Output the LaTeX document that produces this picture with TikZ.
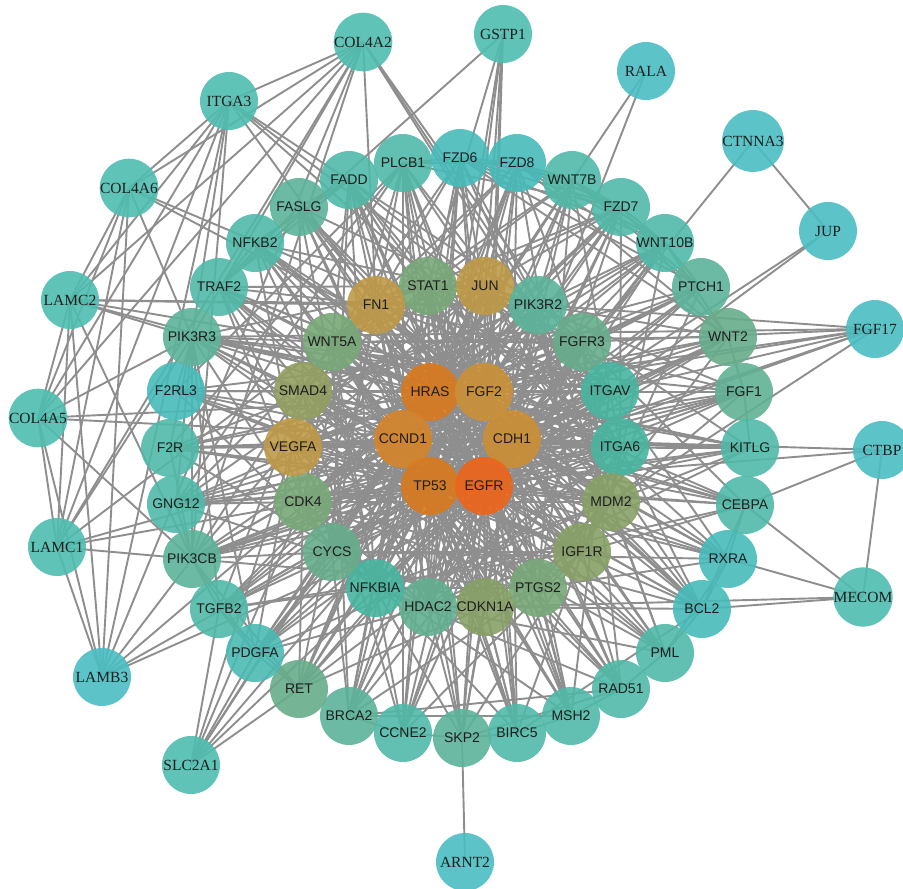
\documentclass[tikz,border=0pt]{standalone}
\usepackage{fontspec}
\setmainfont{Liberation Serif}
\setsansfont{Liberation Sans}
\usetikzlibrary{backgrounds}

\definecolor{tealOut}{HTML}{4FBDB0}
\definecolor{cyanOut}{HTML}{4ABEC2}
\definecolor{midT}{HTML}{50B9A8}
\definecolor{midG}{HTML}{5CB39A}
\definecolor{midC}{HTML}{47BBBA}
\definecolor{innG}{HTML}{78A777}
\definecolor{innO}{HTML}{87A067}
\definecolor{innT}{HTML}{46B5A0}
\definecolor{innM}{HTML}{67AC8B}
\definecolor{goldN}{HTML}{BE9A48}
\definecolor{coreO}{HTML}{D97A1E}
\definecolor{coreB}{HTML}{D4832A}
\definecolor{coreC}{HTML}{CC8F35}
\definecolor{egfrO}{HTML}{EE6418}
\definecolor{edgeG}{HTML}{8E8E8E}
\definecolor{labelK}{HTML}{1E1E1E}

\begin{document}
\begin{tikzpicture}[
        x=1pt, y=-1pt,
        gene/.style={circle, minimum size=58pt, inner sep=0pt, fill opacity=0.9,
            text opacity=1, text=labelK, font=\sffamily\fontsize{14}{16}\selectfont},
        outer/.style={gene, font=\rmfamily\fontsize{15.5}{17}\selectfont},
        edge/.style={draw=edgeG, line width=1.9pt}
    ]
        \useasboundingbox (0,0) rectangle (903,889);

        % Core
        \node[gene, fill=coreO] (HRAS) at (430,392) {HRAS};
        \node[gene, fill=coreC!85!goldN] (FGF2) at (484,392) {FGF2};
        \node[gene, fill=coreB] (CCND1) at (403,439) {CCND1};
        \node[gene, fill=coreC] (CDH1) at (512,439) {CDH1};
        \node[gene, fill=coreO] (TP53) at (430,486) {TP53};
        \node[gene, fill=egfrO] (EGFR) at (484,486) {EGFR};

        % Inner ring
        \node[gene, fill=innG] (STAT1) at (428,286) {STAT1};
        \node[gene, fill=goldN] (JUN) at (485,286) {JUN};
        \node[gene, fill=midG] (PIK3R2) at (538,305) {PIK3R2};
        \node[gene, fill=innM] (FGFR3) at (582,342) {FGFR3};
        \node[gene, fill=innT] (ITGAV) at (610,391) {ITGAV};
        \node[gene, fill=innT] (ITGA6) at (620,447) {ITGA6};
        \node[gene, fill=innO] (MDM2) at (611,502) {MDM2};
        \node[gene, fill=innO] (IGF1R) at (582,552) {IGF1R};
        \node[gene, fill=innG] (PTGS2) at (538,588) {PTGS2};
        \node[gene, fill=innO] (CDKN1A) at (485,607) {CDKN1A};
        \node[gene, fill=innM!80!midT] (HDAC2) at (428,607) {HDAC2};
        \node[gene, fill=innT] (NFKBIA) at (375,588) {NFKBIA};
        \node[gene, fill=innM] (CYCS) at (332,552) {CYCS};
        \node[gene, fill=innG] (CDK4) at (303,502) {CDK4};
        \node[gene, fill=goldN] (VEGFA) at (293,447) {VEGFA};
        \node[gene, fill=innO!80!goldN] (SMAD4) at (303,391) {SMAD4};
        \node[gene, fill=innG] (WNT5A) at (332,342) {WNT5A};
        \node[gene, fill=goldN] (FN1) at (376,305) {FN1};

        % Middle ring
        \node[gene, fill=midT] (FADD) at (349,180) {FADD};
        \node[gene, fill=midT] (PLCB1) at (403,163) {PLCB1};
        \node[gene, fill=midC] (FZD6) at (460,158) {FZD6};
        \node[gene, fill=midC] (FZD8) at (517,163) {FZD8};
        \node[gene, fill=midT] (WNT7B) at (572,180) {WNT7B};
        \node[gene, fill=midT] (FZD7) at (621,207) {FZD7};
        \node[gene, fill=midT] (WNT10B) at (665,243) {WNT10B};
        \node[gene, fill=midG] (PTCH1) at (701,287) {PTCH1};
        \node[gene, fill=innM] (WNT2) at (728,337) {WNT2};
        \node[gene, fill=innM!70!midT] (FGF1) at (744,392) {FGF1};
        \node[gene, fill=midT] (KITLG) at (750,448) {KITLG};
        \node[gene, fill=midT] (CEBPA) at (745,505) {CEBPA};
        \node[gene, fill=midC] (RXRA) at (728,559) {RXRA};
        \node[gene, fill=midC] (BCL2) at (702,609) {BCL2};
        \node[gene, fill=midT] (PML) at (665,653) {PML};
        \node[gene, fill=midT] (RAD51) at (621,689) {RAD51};
        \node[gene, fill=midT] (MSH2) at (571,716) {MSH2};
        \node[gene, fill=midT] (BIRC5) at (517,733) {BIRC5};
        \node[gene, fill=midG] (SKP2) at (462,738) {SKP2};
        \node[gene, fill=midT] (CCNE2) at (403,733) {CCNE2};
        \node[gene, fill=midG] (BRCA2) at (349,716) {BRCA2};
        \node[gene, fill=innM] (RET) at (299,689) {RET};
        \node[gene, fill=midC!60!midT] (PDGFA) at (255,653) {PDGFA};
        \node[gene, fill=midT] (TGFB2) at (219,609) {TGFB2};
        \node[gene, fill=midG] (PIK3CB) at (192,559) {PIK3CB};
        \node[gene, fill=midT] (GNG12) at (176,504) {GNG12};
        \node[gene, fill=midT] (F2R) at (170,448) {F2R};
        \node[gene, fill=midC] (F2RL3) at (176,391) {F2RL3};
        \node[gene, fill=midG] (PIK3R3) at (192,337) {PIK3R3};
        \node[gene, fill=midT] (TRAF2) at (219,287) {TRAF2};
        \node[gene, fill=midT] (NFKB2) at (255,243) {NFKB2};
        \node[gene, fill=midG] (FASLG) at (299,207) {FASLG};

        % Outer nodes
        \node[outer, fill=tealOut] (COL4A2) at (363,42) {COL4A2};
        \node[outer, fill=tealOut] (GSTP1) at (503,34) {GSTP1};
        \node[outer, fill=cyanOut] (RALA) at (646,71) {RALA};
        \node[outer, fill=cyanOut] (CTNNA3) at (753,141) {CTNNA3};
        \node[outer, fill=cyanOut] (JUP) at (828,231) {JUP};
        \node[outer, fill=cyanOut] (FGF17) at (875,329) {FGF17};
        \node[outer, fill=cyanOut] (CTBP) at (882,450) {CTBP};
        \node[outer, fill=tealOut] (MECOM) at (863,597) {MECOM};
        \node[outer, fill=cyanOut] (ARNT2) at (465,862) {ARNT2};
        \node[outer, fill=tealOut] (SLC2A1) at (191,765) {SLC2A1};
        \node[outer, fill=cyanOut] (LAMB3) at (102,677) {LAMB3};
        \node[outer, fill=tealOut] (LAMC1) at (57,547) {LAMC1};
        \node[outer, fill=tealOut] (COL4A5) at (38,418) {COL4A5};
        \node[outer, fill=tealOut] (LAMC2) at (70,300) {LAMC2};
        \node[outer, fill=tealOut] (COL4A6) at (129,188) {COL4A6};
        \node[outer, fill=tealOut] (ITGA3) at (229,101) {ITGA3};

        \begin{scope}[on background layer]
        % core to every ring node
        \foreach \a in {HRAS,FGF2,CCND1,CDH1,TP53,EGFR} {
            \foreach \b in {HRAS,FGF2,CCND1,CDH1,TP53,EGFR,
                STAT1,JUN,PIK3R2,FGFR3,ITGAV,ITGA6,MDM2,IGF1R,PTGS2,CDKN1A,HDAC2,NFKBIA,CYCS,CDK4,VEGFA,SMAD4,WNT5A,FN1,
                FADD,PLCB1,FZD6,FZD8,WNT7B,FZD7,WNT10B,PTCH1,WNT2,FGF1,KITLG,CEBPA,RXRA,BCL2,PML,RAD51,MSH2,BIRC5,SKP2,CCNE2,BRCA2,RET,PDGFA,TGFB2,PIK3CB,GNG12,F2R,F2RL3,PIK3R3,TRAF2,NFKB2,FASLG}
                \draw[edge] (\a.center) -- (\b.center);
        }
        % inner ring among itself
        \foreach \a [count=\i] in {STAT1,JUN,PIK3R2,FGFR3,ITGAV,ITGA6,MDM2,IGF1R,PTGS2,CDKN1A,HDAC2,NFKBIA,CYCS,CDK4,VEGFA,SMAD4,WNT5A,FN1} {
            \foreach \b [count=\j] in {STAT1,JUN,PIK3R2,FGFR3,ITGAV,ITGA6,MDM2,IGF1R,PTGS2,CDKN1A,HDAC2,NFKBIA,CYCS,CDK4,VEGFA,SMAD4,WNT5A,FN1} {
                \pgfmathtruncatemacro\k{mod(\i+\j,2)}
                \ifnum\j>\i \ifnum\k=1 \draw[edge] (\a.center) -- (\b.center); \fi\fi
            }
        }
        % inner ring to middle ring
        \foreach \a [count=\i] in {STAT1,JUN,PIK3R2,FGFR3,ITGAV,ITGA6,MDM2,IGF1R,PTGS2,CDKN1A,HDAC2,NFKBIA,CYCS,CDK4,VEGFA,SMAD4,WNT5A,FN1} {
            \foreach \b [count=\j] in {FADD,PLCB1,FZD6,FZD8,WNT7B,FZD7,WNT10B,PTCH1,WNT2,FGF1,KITLG,CEBPA,RXRA,BCL2,PML,RAD51,MSH2,BIRC5,SKP2,CCNE2,BRCA2,RET,PDGFA,TGFB2,PIK3CB,GNG12,F2R,F2RL3,PIK3R3,TRAF2,NFKB2,FASLG} {
                \pgfmathtruncatemacro\k{mod(5*\i+3*\j,4)}
                \ifnum\k=0 \draw[edge] (\a.center) -- (\b.center); \fi
            }
        }
        % middle ring and outer nodes
        \foreach \a/\bs in {FZD6/{FZD8,FZD7,WNT7B,WNT10B,WNT2,PTCH1,WNT5A}, FZD8/{FZD7,WNT7B,WNT10B,WNT2,PTCH1,WNT5A},
                FZD7/{WNT7B,WNT10B,WNT2,WNT5A}, WNT7B/{WNT10B,PTCH1}, WNT10B/{PTCH1,WNT2},
                PLCB1/{FZD6,FZD8,FZD7,F2R,F2RL3,GNG12}, FADD/{FASLG,TRAF2,NFKB2,NFKBIA,BCL2},
                TRAF2/{NFKB2,FASLG,NFKBIA}, PIK3R3/{F2R,F2RL3,GNG12,PIK3CB,FGF1,KITLG,PDGFA,TGFB2},
                PIK3CB/{GNG12,F2R,PDGFA,KITLG,FGF1,RET,TGFB2}, FGF1/{KITLG,WNT2}, RXRA/{CEBPA,BCL2,PML},
                BCL2/{PML,CEBPA,BIRC5}, RAD51/{MSH2,BRCA2,PML,SKP2}, MSH2/{BRCA2,BIRC5}, SKP2/{CCNE2,BIRC5},
                CCNE2/{BRCA2}, TGFB2/{PDGFA,RET}, RET/{PDGFA},
                ITGA3/{COL4A2,COL4A6,LAMC2,COL4A5,LAMC1,LAMB3,PIK3R3,FN1,ITGAV,ITGA6,PIK3CB,PIK3R2},
                COL4A2/{COL4A6,LAMC2,COL4A5,LAMC1,LAMB3,ITGAV,ITGA6,PIK3R3,PIK3CB,PIK3R2,FN1},
                COL4A6/{COL4A5,LAMC2,LAMC1,LAMB3,ITGAV,ITGA6,PIK3R3},
                LAMC2/{COL4A5,LAMC1,LAMB3,PIK3R3,ITGAV,ITGA6,PIK3CB,PIK3R2,FN1},
                COL4A5/{LAMC1,LAMB3,ITGAV,ITGA6,PIK3R3,PIK3CB}, LAMC1/{LAMB3,ITGAV,ITGA6,PIK3CB,PIK3R3,FN1},
                LAMB3/{ITGAV,ITGA6,PIK3CB,PIK3R2}, GSTP1/{TRAF2,JUN,STAT1,TP53,EGFR,CDKN1A,HDAC2},
                RALA/{HRAS,EGFR}, CTNNA3/{JUP,CDH1}, JUP/{CDH1,EGFR},
                FGF17/{PIK3R2,FGFR3,HRAS,PIK3R3,FGF2,ITGAV,PIK3CB,TP53,MDM2},
                CTBP/{CEBPA,MECOM,CDH1,TP53}, MECOM/{CEBPA,RXRA,BCL2,CDKN1A}, ARNT2/{SKP2},
                SLC2A1/{TGFB2,VEGFA,HRAS,TP53,EGFR,CCND1,RET,CDK4,PDGFA}} {
            \foreach \b in \bs
                \draw[edge] (\a.center) -- (\b.center);
        }
        \end{scope}
    \end{tikzpicture}
\end{document}
